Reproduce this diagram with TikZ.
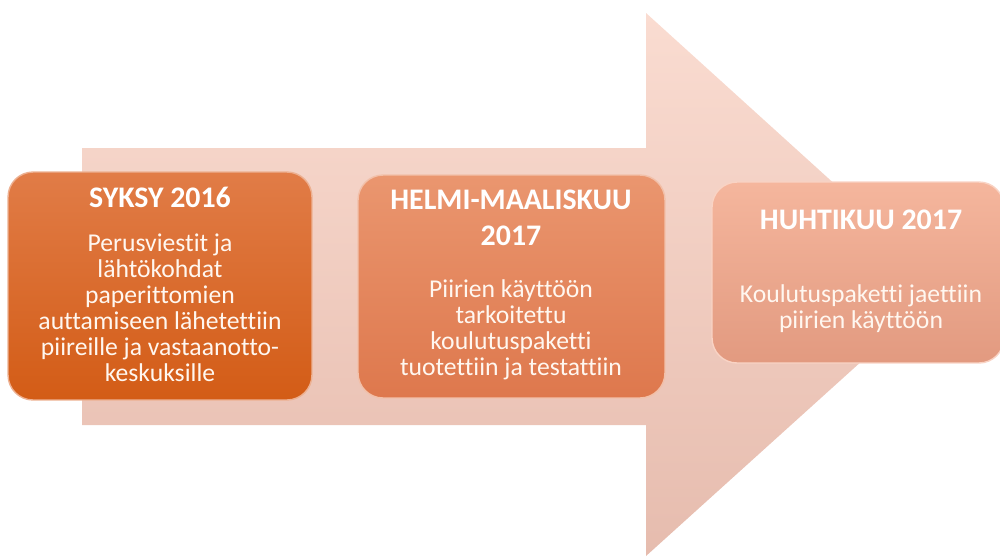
\documentclass[tikz,border=0pt]{standalone}
\usepackage{fontspec}
\setmainfont[Ligatures=NoCommon]{Carlito}
\usetikzlibrary{positioning}
\definecolor{shafttop}{HTML}{FADCD1}
\definecolor{shaftbot}{HTML}{E6BCAE}
\definecolor{onetop}{HTML}{E17C47}
\definecolor{onebot}{HTML}{D35C16}
\definecolor{twotop}{HTML}{EA966F}
\definecolor{twobot}{HTML}{DE784D}
\definecolor{threetop}{HTML}{F5B69D}
\definecolor{threebot}{HTML}{E29A80}
\tikzset{
  stagebox/.style={rounded corners=0.5cm, inner sep=0pt, draw=white!40!#1top, line width=0.8pt,
    top color=#1top, bottom color=#1bot},
  stagetitle/.style={text=white, font=\fontsize{17}{20.4}\selectfont\bfseries, align=center},
  stagetext/.style={text=white!94!orange, font=\fontsize{14.6}{14.8}\selectfont, align=center}
}
\begin{document}
\begin{tikzpicture}[x=0.02cm, y=0.02cm]
\useasboundingbox (0,0) rectangle (1000,-556);
% big arrow
\shade [top color=shafttop, bottom color=shaftbot] (82,-148) -- (646,-148) -- (646,-13) -- (946,-285) -- (646,-556) -- (646,-425) -- (82,-425) -- cycle;
% stages
\node [stagebox=one, minimum width=6.08cm, minimum height=4.56cm] (syksy) at (160,-286) {};
\node [stagebox=two, minimum width=6.14cm, minimum height=4.46cm] (helmi) at (511.5,-286.5) {};
\node [stagebox=three, minimum width=5.84cm, minimum height=3.62cm] (huhti) at (858,-272.5) {};
\node [stagetitle] (syksyt) at (160,-197) {SYKSY 2016};
\node [stagetext] (syksyb) at (160,-308) {Perusviestit ja\\lähtökohdat\\paperittomien\\auttamiseen lähetettiin\\piireille ja vastaanotto-\\keskuksille};
\node [stagetitle] (helmit) at (511,-218) {HELMI-MAALISKUU\\2017};
\node [stagetext] (helmib) at (511,-330) {Piirien käyttöön\\tarkoitettu\\koulutuspaketti\\tuotettiin ja testattiin};
\node [stagetitle] (huhtit) at (861,-220) {HUHTIKUU 2017};
\node [stagetext] (huhtib) at (861,-309) {Koulutuspaketti jaettiin\\piirien käyttöön};
\end{tikzpicture}
\end{document}
